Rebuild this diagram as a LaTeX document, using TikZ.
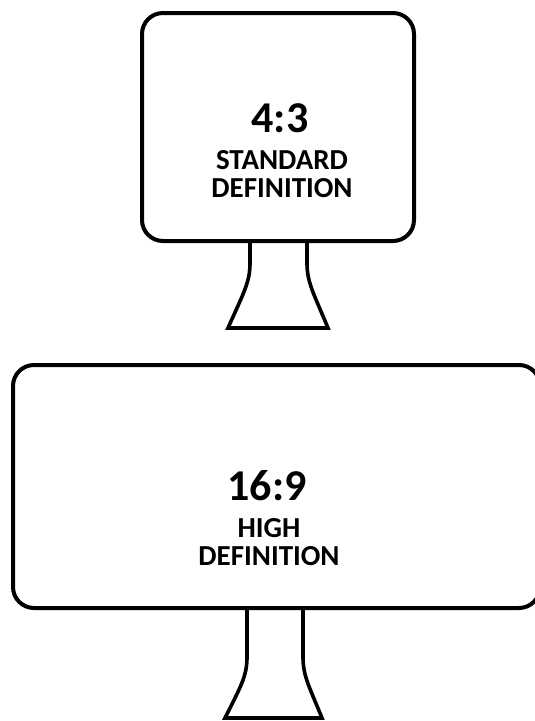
\documentclass[tikz,border=0pt]{standalone}
\usepackage{fontspec}
\setmainfont{Carlito}
\begin{document}
\begin{tikzpicture}[x=1pt,y=-1pt,
  screen/.style={draw, line width=4pt, rounded corners=21pt, rectangle, inner sep=0pt},
  standline/.style={line width=3.6pt, line join=miter},
  ratio/.style={font=\bfseries\fontsize{44}{44}\selectfont, inner sep=0pt},
  caption/.style={font=\bfseries\fontsize{29}{28}\selectfont, inner sep=0pt}]
\useasboundingbox (0,0) rectangle (535,721);
\clip (0,0) rectangle (535,721);

% 4:3 monitor
\node[screen, minimum width=272pt, minimum height=228pt] (sd) at (278,127) {};
\node[ratio] (sdratio) at (280,118) {4:3};
\node[caption] (sdname1) at (282,160) {STANDARD};
\node[caption] (sdname2) at (282,188) {DEFINITION};
\draw[standline] (250,241) -- (250,263) .. controls (250,282) and (244,292) .. (228,328)
  -- (328,328) .. controls (313,292) and (307,282) .. (307,263) -- (307,241);

% 16:9 monitor, its right side runs just past the page edge
\node[screen, minimum width=527pt, minimum height=243pt] (hd) at (276.5,486.5) {};
\node[ratio] (hdratio) at (267,486) {16:9};
\node[caption] (hdname1) at (269,528) {HIGH};
\node[caption] (hdname2) at (269,556) {DEFINITION};
\draw[standline] (247,608) -- (247,657) .. controls (247,676) and (241,686) .. (225,718)
  -- (322,718) .. controls (309,686) and (303,676) .. (303,657) -- (303,608);
\end{tikzpicture}
\end{document}
